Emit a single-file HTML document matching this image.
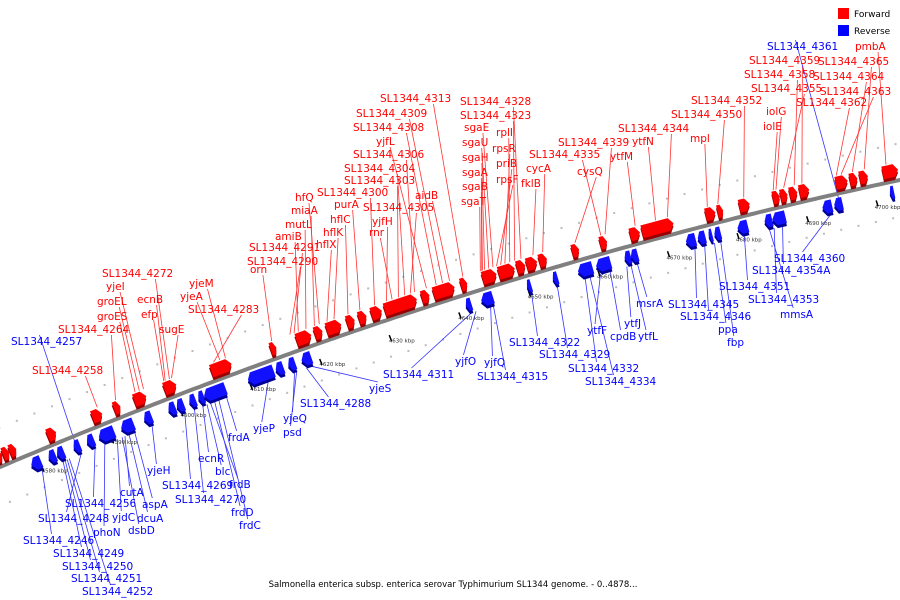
<!DOCTYPE html>
<html><head><meta charset="utf-8"><style>
body{margin:0;background:#fff;}
svg{display:block;font-family:"DejaVu Sans","Liberation Sans",sans-serif;}
</style></head><body>
<svg id="chart" width="900" height="600" viewBox="0 0 900 600">
<g id="grid"></g>
<g id="lines"></g>
<path id="axis" fill="none" stroke="#808080" stroke-width="4"/>
<g id="ticks"></g>
<g id="genes"></g>
<g id="labels"></g>
<g>
<rect x="838" y="8" width="11" height="11" fill="#f00"/>
<text x="854" y="17" font-size="9">Forward</text>
<rect x="838" y="25" width="11" height="11" fill="#00f"/>
<text x="854" y="34" font-size="9">Reverse</text>
</g>
<text x="453" y="587" font-size="8.5" text-anchor="middle">Salmonella enterica subsp. enterica serovar Typhimurium SL1344 genome. - 0..4878...</text>
</svg>
<script>
const tickValues=[4580,4590,4600,4610,4620,4630,4640,4650,4660,4670,4680,4690,4700];
const fwdStart=[4573.6,4574.6,4575.6,4581.0,4587.4,4590.5,4593.4,4597.7,4604.4,4612.9,4616.6,4619.2,4620.9,4623.8,4625.5,4627.3,4629.2,4634.5,4636.2,4640.1,4643.2,4645.5,4648.1,4649.5,4651.3,4656.0,4660.0,4664.3,4666.0,4675.1,4676.8,4679.9,4684.7,4685.8,4687.1,4688.5,4693.7,4695.7,4697.1,4700.4];
const fwdEnd=[4574.5,4575.5,4576.5,4582.2,4588.8,4591.4,4595.1,4599.4,4607.3,4613.7,4618.7,4620.3,4623.0,4624.9,4626.6,4628.8,4633.8,4635.6,4639.2,4641.0,4645.2,4647.8,4649.3,4651.0,4652.4,4657.0,4661.0,4665.7,4670.5,4676.5,4677.6,4681.4,4685.7,4686.8,4688.2,4689.9,4695.4,4696.8,4698.3,4702.6];
const revStart=[4577.5,4580.0,4581.2,4583.6,4585.5,4587.2,4590.4,4593.7,4597.2,4598.4,4600.2,4601.5,4602.3,4608.6,4612.6,4614.4,4616.3,4639.9,4642.1,4648.7,4652.4,4656.0,4658.6,4662.7,4663.6,4671.5,4673.2,4674.8,4675.6,4678.9,4682.8,4683.9,4691.1,4692.8,4700.8];
const revEnd=[4578.9,4581.0,4582.2,4584.5,4586.5,4589.4,4592.2,4594.8,4598.2,4599.4,4601.1,4602.3,4605.4,4612.3,4613.7,4615.4,4617.7,4640.7,4643.8,4649.3,4653.1,4658.1,4660.7,4663.6,4664.6,4672.9,4674.3,4675.3,4676.5,4680.4,4683.9,4685.8,4692.5,4694.0,4701.4];
const fwdNames=["pmbA","SL1344_4365","SL1344_4364","SL1344_4363","SL1344_4362","SL1344_4359","SL1344_4358","SL1344_4355","iolG","iolE","SL1344_4352","SL1344_4350","mpl","SL1344_4344","ytfN","ytfM","SL1344_4339","SL1344_4335","cysQ","cycA","fklB","SL1344_4328","SL1344_4323","rplI","rpsR","priB","rpsF","sgaE","sgaU","sgaH","sgaA","sgaB","sgaT","SL1344_4313","aidB","SL1344_4309","SL1344_4308","yjfL","SL1344_4306","SL1344_4305","SL1344_4304","SL1344_4303","rnr","yjfH","SL1344_4300","purA","hflC","hflK","hflX","hfQ","miaA","mutL","amiB","SL1344_4291","SL1344_4290","orn","yjeM","yjeA","SL1344_4283","SL1344_4272","ecnB","efp","sugE","yjeI","groEL","groES","SL1344_4264","SL1344_4258"];
const fwdTarget=[4701.1,4698.0,4696.3,4694.7,4694.0,4689.1,4688.0,4686.5,4685.4,4685.0,4680.8,4677.1,4675.6,4669.9,4668.2,4665.3,4661.0,4660.4,4656.7,4652.1,4650.7,4649.0,4648.1,4647.4,4646.7,4646.1,4645.5,4645.0,4644.4,4643.8,4643.5,4643.4,4643.2,4640.7,4638.8,4637.8,4636.9,4635.5,4633.8,4633.2,4632.4,4631.5,4630.6,4629.8,4628.1,4626.0,4624.3,4622.3,4621.3,4620.2,4619.5,4618.3,4617.2,4616.6,4616.0,4613.4,4606.8,4606.0,4605.1,4598.8,4598.2,4598.0,4599.1,4595.1,4594.5,4593.9,4591.1,4588.5];
const fwdLabelX=[855,818,813,820,796,749,744,751,766,763,691,671,690,618,632,610,558,529,577,526,521,460,460,496,492,496,496,464,462,462,462,462,461,380,415,356,353,376,353,363,344,344,369,372,317,334,330,323,316,295,291,285,275,249,247,250,189,180,188,102,137,141,159,106,97,97,58,32];
const fwdLabelY=[50,65,80,95,106,64,78,92,115,130,104,118,142,132,145,160,146,158,175,172,187,105,119,136,152,167,183,131,146,161,176,190,205,102,199,117,131,145,158,211,172,184,236,225,196,208,223,236,248,201,214,228,240,251,265,273,287,300,313,277,303,318,333,290,305,320,333,374];
const revNames=["SL1344_4361","SL1344_4257","SL1344_4360","SL1344_4354A","SL1344_4353","mmsA","SL1344_4351","fbp","ppa","SL1344_4346","SL1344_4345","msrA","ytfL","ytfJ","cpdB","ytfF","SL1344_4334","SL1344_4332","SL1344_4329","SL1344_4322","SL1344_4315","yjfQ","yjfO","SL1344_4311","yjeS","SL1344_4288","psd","yjeQ","yjeP","frdA","frdC","frdD","frdB","blc","ecnR","SL1344_4270","SL1344_4269","yjeH","aspA","dcuA","cutA","dsbD","yjdC","phoN","SL1344_4256","SL1344_4248","SL1344_4246","SL1344_4249","SL1344_4250","SL1344_4251","SL1344_4252"];
const revTarget=[4693.7,4583.9,4692.0,4685.1,4683.9,4683.2,4679.6,4676.2,4675.3,4673.9,4672.5,4664.2,4663.3,4662.7,4660.3,4658.9,4657.4,4656.7,4652.7,4649.0,4643.5,4643.1,4641.0,4640.4,4617.3,4616.6,4615.2,4614.9,4611.1,4605.1,4604.0,4603.4,4602.8,4602.3,4601.7,4600.5,4599.1,4594.4,4591.9,4591.1,4590.5,4590.1,4589.4,4587.6,4586.2,4584.2,4578.6,4581.6,4581.9,4582.2,4582.5];
const revLabelX=[767,11,774,752,748,780,719,727,718,680,668,636,638,624,610,587,585,568,539,509,477,484,455,383,369,300,283,283,253,228,239,231,229,215,198,175,162,147,142,137,120,128,112,93,65,38,23,53,62,71,82];
const revLabelY=[50,345,262,274,303,318,290,346,333,320,308,307,340,327,340,334,385,372,358,346,380,366,365,378,392,407,436,422,432,441,529,516,488,475,462,503,489,474,508,522,496,534,521,536,507,522,544,557,570,582,595];

const NS="http://www.w3.org/2000/svg";
function kx(k){return (k-4573.6)/0.1433;}
function cy(x){return 467-0.4254*x+1.183e-4*x*x;}
function P(k,off){const x=kx(k);const d=-0.4254+2*1.183e-4*x;const n=Math.sqrt(1+d*d);return [x-d*off/n, cy(x)+off/n];}
function mk(tag,attrs,parent){const e=document.createElementNS(NS,tag);for(const a in attrs)e.setAttribute(a,attrs[a]);parent.appendChild(e);return e;}
const g=id=>document.getElementById(id);
let dA="";for(let x=-5;x<=905;x+=5){dA+=(x<0?"M":"L")+x+","+cy(x).toFixed(1);}
g("axis").setAttribute("d",dA);
[-36,36].forEach(off=>{
 for(let k=4573;k<4704;k+=2.5){const p=P(k,off);
  const c=mk("rect",{x:p[0]-1,y:p[1]-1,width:2,height:2,fill:"#bbb"},g("grid"));
  
  }
});
tickValues.forEach(v=>{
 const p=P(v,26);
 const t=mk("text",{x:p[0],y:p[1],"font-size":"5.5","text-anchor":"middle",fill:"#333"},g("ticks"));
 t.textContent=v+" kbp";
 
 
 const m=P(v-1.3,15),m2=P(v-1.3,19);
 const l=mk("line",{x1:m[0],y1:m[1],x2:m2[0]+1,y2:m2[1]+2,stroke:"#000","stroke-width":1.5},g("ticks"));
 
 
});
function gene(s,e,fwd){
 const a=fwd?-4:4,b=fwd?-17:17;const tip=Math.min(0.6,(e-s)*0.4);
 let pts;
 if(fwd){pts=[P(s,a),P(e-tip,a),P(e,(a+b)/2),P(e-tip,b),P(s,b)];}
 else{pts=[P(s,(a+b)/2),P(s+tip,a),P(e,a),P(e,b),P(s+tip,b)];}
 const sh=pts.map(p=>[p[0],p[1]+3]);
 const col=fwd?["#900","#f00"]:["#009","#11f"];
 const p1=mk("polygon",{points:sh.map(p=>p.join(",")).join(" "),fill:col[0]},g("genes"));
 
 
 const p2=mk("polygon",{points:pts.map(p=>p.join(",")).join(" "),fill:col[1]},g("genes"));
 
 
}
fwdStart.forEach((s,i)=>gene(s,fwdEnd[i],true));
revStart.forEach((s,i)=>gene(s,revEnd[i],false));
function labels(names,tg,lx,ly,fwd){
 names.forEach((nm,i)=>{
  const t=mk("text",{x:lx[i],y:ly[i],"font-size":"10.5",fill:fwd?"#f00":"#00f"},g("labels"));
  t.textContent=nm;
  
  
  const w=t.getComputedTextLength();
  let x1,y1,p;
  if(fwd){x1=lx[i]+w*0.75;y1=ly[i]+2;p=P(tg[i],-18);}
  else{x1=lx[i]+w*0.4;y1=ly[i]-10;p=P(tg[i],19);}
  const l=mk("line",{x1:x1,y1:y1,x2:p[0],y2:p[1],stroke:fwd?"#f33":"#33f","stroke-width":0.8},g("lines"));
  
  
 });
}
labels(fwdNames,fwdTarget,fwdLabelX,fwdLabelY,true);
labels(revNames,revTarget,revLabelX,revLabelY,false);
</script>
</body></html>
